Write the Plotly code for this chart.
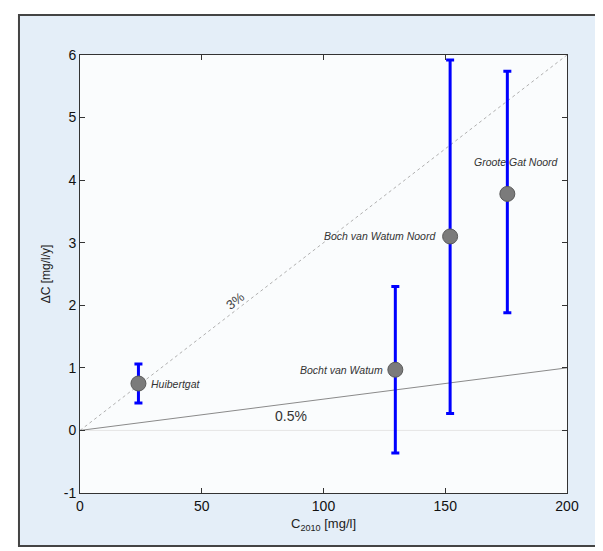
import plotly.graph_objects as go

# ---- data ----
sites = ["Huibertgat", "Bocht van Watum", "Boch van Watum Noord", "Groote Gat Noord"]
c2010 = [24, 129.5, 152, 175.5]
dc = [0.75, 0.97, 3.1, 3.78]
dc_low = [0.44, -0.36, 0.27, 1.88]
dc_high = [1.06, 2.3, 5.92, 5.74]

line_x = [0, 200]
line3_y = [0, 6]      # 3% line
line05_y = [0, 1]     # 0.5% line

x_ticks = [0, 50, 100, 150, 200]
x_ticktext = ["0", "50", "100", "150", "200"]
y_ticks = [-1, 0, 1, 2, 3, 4, 5, 6]
y_ticktext = ["-1", "0", "1", "2", "3", "4", "5", "6"]

err_plus = [h - v for h, v in zip(dc_high, dc)]
err_minus = [v - l for v, l in zip(dc, dc_low)]

FONT = "Liberation Sans, Arial, sans-serif"

fig = go.Figure()

# faint zero line
fig.add_trace(go.Scatter(x=line_x, y=[0, 0], mode="lines",
                         line=dict(color="#e6e6e6", width=1),
                         hoverinfo="skip", showlegend=False))
# 3% line (dotted)
fig.add_trace(go.Scatter(x=line_x, y=line3_y, mode="lines",
                         line=dict(color="#b0b0b0", width=1, dash="dot"),
                         hoverinfo="skip", showlegend=False))
# 0.5% line
fig.add_trace(go.Scatter(x=line_x, y=line05_y, mode="lines",
                         line=dict(color="#8a8a8a", width=1),
                         hoverinfo="skip", showlegend=False))

# points with error bars
fig.add_trace(go.Scatter(
    x=c2010, y=dc, mode="markers", text=sites,
    marker=dict(size=15, color="#7b7b7b", line=dict(color="#5a5a5a", width=1)),
    error_y=dict(type="data", symmetric=False, array=err_plus, arrayminus=err_minus,
                 color="#0000ff", thickness=3, width=4),
    showlegend=False))

ann_font = dict(family=FONT, size=10.5, color="#333333")
annotations = [
    dict(x=c2010[0], y=dc[0], text="<i>" + sites[0] + "</i>", xanchor="left",
         xshift=11, showarrow=False, font=ann_font),
    dict(x=c2010[1], y=dc[1], text="<i>" + sites[1] + "</i>", xanchor="right",
         xshift=-10, showarrow=False, font=ann_font),
    dict(x=c2010[2], y=dc[2], text="<i>" + sites[2] + "</i>", xanchor="right",
         xshift=-12, showarrow=False, font=ann_font),
    dict(x=c2010[3], y=dc[3], text="<i>" + sites[3] + "</i>", xanchor="center",
         xshift=9, yshift=32, showarrow=False, font=ann_font),
    dict(x=64, y=2.07, text="3%", textangle=-38, showarrow=False,
         font=dict(family=FONT, size=13, color="#444444")),
    dict(x=86.7, y=0.23, text="0.5%", showarrow=False,
         font=dict(family=FONT, size=14, color="#333333")),
]

# outer frame and plot background
shapes = [
    dict(type="rect", xref="paper", yref="paper", x0=-0.1253, x1=1.0698,
         y0=-0.121, y1=1.0913, fillcolor="#e4eef8",
         line=dict(color="#444444", width=2), layer="below"),
    dict(type="rect", xref="paper", yref="paper", x0=0, x1=1, y0=0, y1=1,
         fillcolor="#fafcfd", line=dict(width=0), layer="below"),
]

axis_common = dict(showgrid=False, zeroline=False, showline=True, linecolor="#333333",
                   linewidth=1, mirror="ticks", ticks="inside", ticklen=5,
                   tickcolor="#333333",
                   tickfont=dict(family=FONT, size=14, color="#111111"))

fig.update_layout(
    width=603, height=551,
    margin=dict(l=72, r=44, t=47, b=66),
    paper_bgcolor="white", plot_bgcolor="rgba(0,0,0,0)",
    shapes=shapes, annotations=annotations,
    xaxis=dict(range=[0, 200], tickvals=x_ticks, ticktext=x_ticktext,
               title=dict(text="C<sub>2010</sub> [mg/l]", standoff=6,
                          font=dict(family=FONT, size=13, color="#222222")),
               **axis_common),
    yaxis=dict(range=[-1, 6], tickvals=y_ticks, ticktext=y_ticktext,
               title=dict(text="ΔC [mg/l/y]", standoff=10,
                          font=dict(family=FONT, size=12, color="#222222")),
               **axis_common),
)

fig.write_html("out.html")
